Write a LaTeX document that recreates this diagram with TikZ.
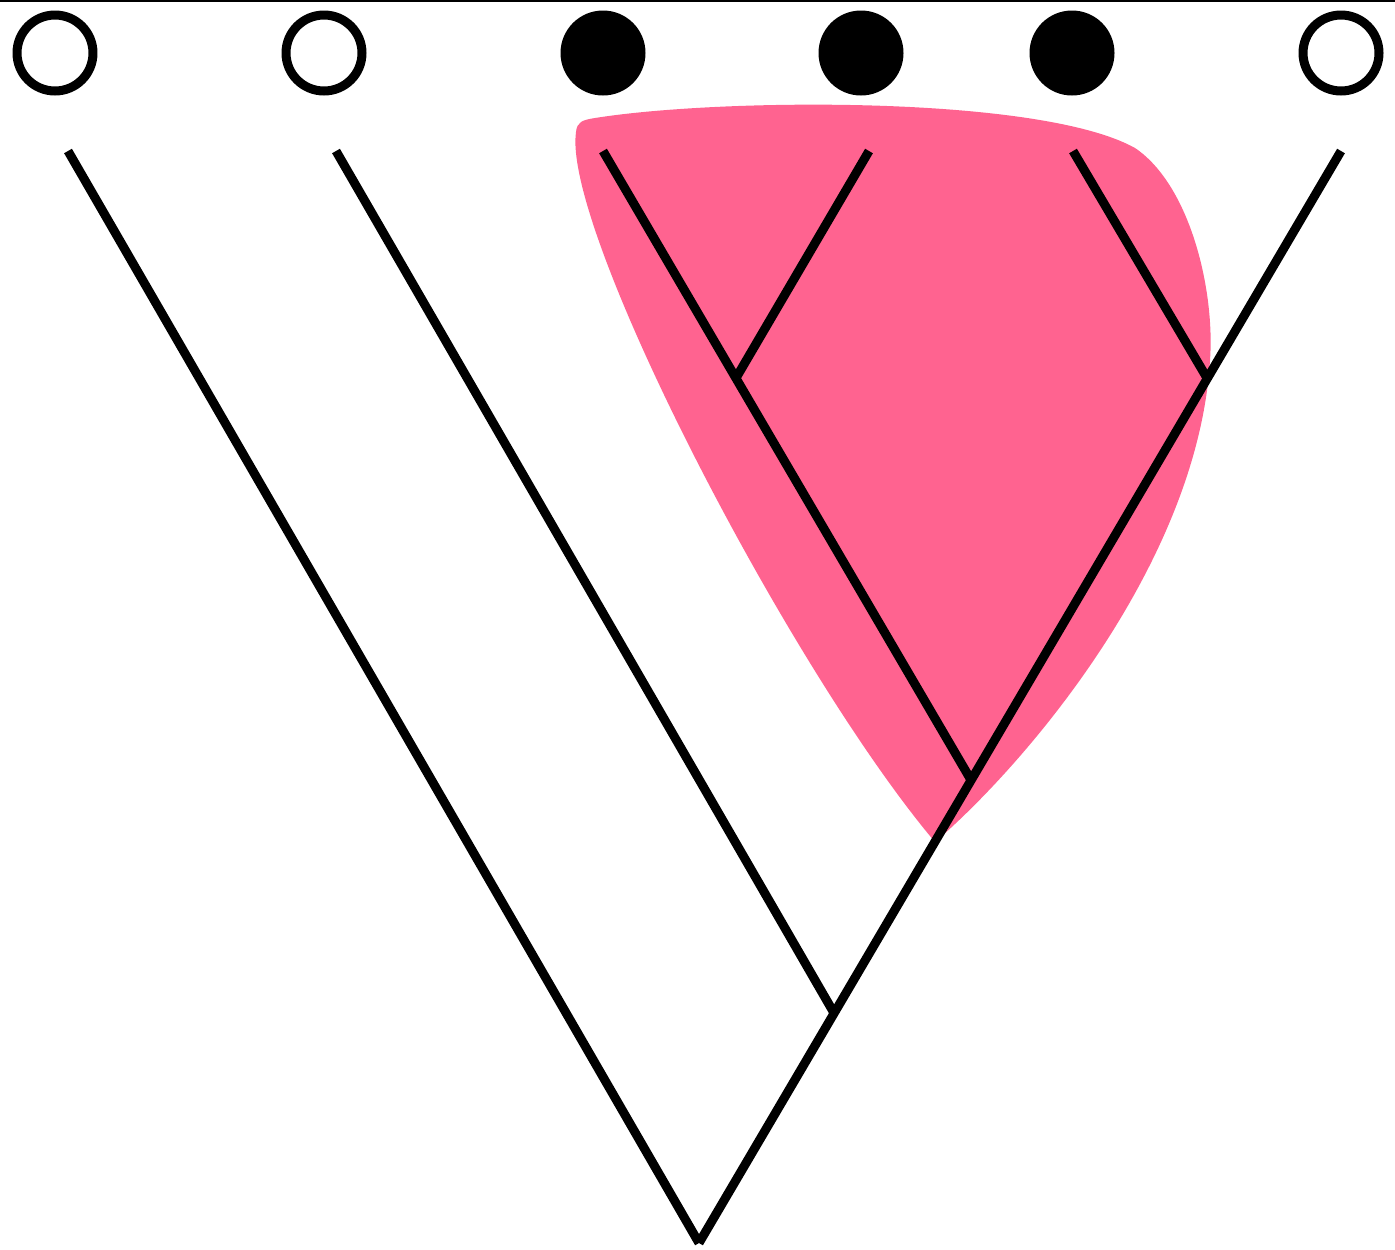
\documentclass[tikz,border=0pt]{standalone}
\definecolor{blob}{RGB}{255,99,144}
\begin{document}
\begin{tikzpicture}[x=0.02cm,y=-0.02cm,
  branch/.style={line width=0.18cm},
  tip/.style={circle,draw,line width=0.18cm,minimum size=1.52cm,inner sep=0pt},
  opentip/.style={tip,fill=white},
  filledtip/.style={tip,fill=black}]
\useasboundingbox (0,0) rectangle (1395,1249);
% pink region
\fill[blob] (576,132) .. controls (577,122) and (582,120) .. (595,118)
  .. controls (720,98) and (1040,95) .. (1135,148)
  .. controls (1190,185) and (1215,290) .. (1210,360)
  .. controls (1198,560) and (1030,760) .. (935,842)
  .. controls (790,670) and (562,230) .. (576,132) -- cycle;
% top rule
\draw[line width=0.04cm] (0,0.5) -- (1395,0.5);
% leaves
\node[opentip]   (t1) at (55,53) {};
\node[opentip]   (t2) at (324,53) {};
\node[filledtip] (t3) at (603,53) {};
\node[filledtip] (t4) at (861,53) {};
\node[filledtip] (t5) at (1072,53) {};
\node[opentip]   (t6) at (1341,53) {};
% tree coordinates
\coordinate (l1) at (68,151);
\coordinate (l2) at (336,151);
\coordinate (l3) at (603,151);
\coordinate (l4) at (869,151);
\coordinate (l5) at (1073,151);
\coordinate (l6) at (1341,151);
\coordinate (A) at (699,1243);
\coordinate (B) at (834,1013);
\coordinate (C) at (971,780);
\coordinate (D) at (736,378);
\coordinate (E) at (1207,378);
% branches
\draw[branch] (l1) -- (A);
\draw[branch] (A) -- (l6);
\draw[branch] (l2) -- (B);
\draw[branch] (l3) -- (C);
\draw[branch] (l4) -- (D);
\draw[branch] (l5) -- (E);
\end{tikzpicture}
\end{document}
